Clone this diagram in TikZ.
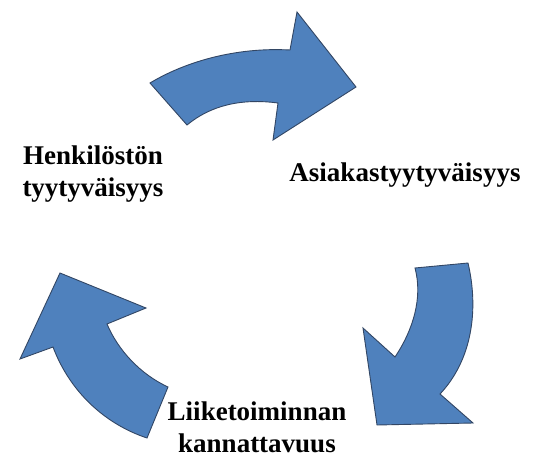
\documentclass[tikz,border=0pt]{standalone}
\usepackage{fontspec}
\setmainfont{Liberation Serif}
\begin{document}
\begin{tikzpicture}[x=1pt,y=-1pt,
  bentarrow/.style={fill=arrowfill,draw=arrowedge,line width=0.9pt,line join=miter},
  label/.style={font=\bfseries\fontsize{27}{32}\selectfont,align=center,inner sep=0pt,text=black}]
\definecolor{arrowfill}{RGB}{79,129,189}
\definecolor{arrowedge}{RGB}{50,70,100}
\useasboundingbox (0,0) rectangle (548,460);

% top arrow, pointing right
\path[bentarrow] (150,83) .. controls (185,62) and (235,47) .. (290,50)
  -- (297,12) -- (356,87) -- (273,140) -- (278,103)
  .. controls (240,98) and (210,106) .. (187,125) -- cycle;

% right arrow, pointing down
\path[bentarrow] (415,268) -- (468,263)
  .. controls (479,310) and (472,360) .. (440,394)
  -- (473,423) -- (377,425) -- (363,328) -- (395,357)
  .. controls (413,330) and (423,298) .. cycle;

% left arrow, pointing up
\path[bentarrow] (60,273) -- (146,308) -- (107,324)
  .. controls (118,350) and (140,374) .. (168,387)
  -- (147,438)
  .. controls (105,424) and (70,392) .. (53,347)
  -- (20,359) -- cycle;

\node[label] (staff) at (93,174) {Henkilöstön\\tyytyväisyys};
\node[label,anchor=base] (customer) at (405,181) {Asiakastyytyväisyys};
\node[label] (profit) at (257,427) {Liiketoiminnan\\kannattavuus};
\end{tikzpicture}
\end{document}
